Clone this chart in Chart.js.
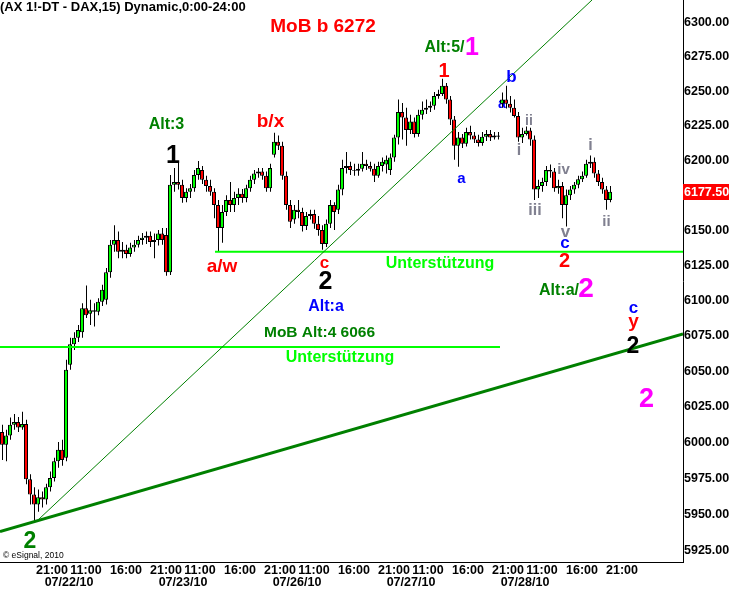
<!DOCTYPE html>
<html><head><meta charset="utf-8">
<script src="https://cdn.jsdelivr.net/npm/chart.js@4.4.1/dist/chart.umd.min.js"></script>
<style>html,body{margin:0;padding:0;background:#fff;overflow:hidden}#wrap{position:relative;width:732px;height:596px}</style>
</head><body><div id="wrap"><canvas id="c"></canvas></div>
<script>
// ---- DAX 30-min candles ----
const openP = [6007.5,5998.5,6005,6012.5,6014.5,6010.5,6013,5974.5,5964,5957,
5962,5960.5,5969,5975.5,5987,5995,5989.5,6054.5,6069,6073.5,
6077.5,6094.5,6090.5,6093,6092,6099,6100.5,6120,6139.5,6143,
6134.5,6136,6133,6137.5,6139.5,6143,6144.5,6146,6141.5,6143,
6147.5,6146.5,6120,6182.5,6184.5,6182.5,6173,6177.5,6180,6189.5,
6193,6186,6181.5,6177.5,6168,6151.5,6163,6171.5,6168,6173,
6176,6173,6180,6186,6190.5,6192,6189,6180,6204,6213.5,
6210.5,6189,6168,6157.5,6164.5,6163,6153,6160,6161.5,6154.5,
6150,6140,6154.5,6168,6164.5,6179,6194.5,6196,6193,6192.5,
6194,6197.5,6196,6194,6189,6196,6197,6193,6202,6216.5,
6235,6231,6222,6228,6219,6233,6236.5,6238,6239.5,6246.5,
6248,6254,6244,6229.5,6210.5,6216.5,6212,6220.5,6218,6215,
6212.5,6217,6219,6216.5,6218,6241,6244,6241,6238,6232,
6216.5,6219,6221.5,6215,6179,6181.5,6184.5,6193,6192,6180,
6181.5,6168,6175,6179,6182.5,6186.5,6189,6197.5,6199,6190.5,
6184.5,6179,6171.5];
const highP = [6012.5,6009,6017.5,6020,6018,6021.5,6016,5978,5969,5967.5,
5966,5971.5,5980,5989.5,6000.5,6002,6058,6073.5,6077.5,6082.5,
6098,6110.5,6100.5,6098,6101.5,6111,6123,6143,6153.5,6149,
6141.5,6139.5,6141,6143,6146,6148,6149,6149,6147.5,6150,
6151.5,6151.5,6189.5,6194.5,6198.5,6186,6180,6183,6193,6199.5,
6196,6189,6186,6180,6171.5,6168,6175,6184.5,6177.5,6180,
6179.5,6182.5,6189,6193,6194.5,6194.5,6192,6197.5,6220,6218,
6213.5,6192,6171.5,6168,6171.5,6166,6163,6164.5,6164.5,6160,
6153.5,6157.5,6171.5,6170,6182.5,6200.5,6206,6199,6197.5,6197.5,
6206,6200.5,6199,6197.5,6199,6202,6203.5,6205,6218.5,6244,
6241.5,6238,6233,6231,6236.5,6242.5,6244,6242.5,6249.5,6251,
6259,6256,6246.5,6232,6220.5,6219,6223.5,6225,6220.5,6218.5,
6220.5,6222,6222,6220.5,6220.5,6249,6254,6246.5,6244,6235,
6223.5,6224.5,6223.5,6218,6186,6187.5,6196,6197,6194.5,6186,
6184.5,6179,6181.5,6184.5,6189,6192,6200.5,6203.5,6202,6193,
6187.5,6181.5,6181.5];
const lowP = [5988,5987,6002,6009,6007.5,6009,5971,5957,5945,5952,
5955,5957,5966,5973,5982.5,5984,5987,6051,6065,6070.5,
6073.5,6087.5,6082.5,6081.5,6089.5,6096,6097,6116,6134.5,6130,
6130,6130,6131,6134.5,6137.5,6139.5,6140,6138,6130,6139,
6139.5,6117.5,6118,6177.5,6179,6169.5,6170,6173,6177.5,6186,
6183,6177.5,6174.5,6158.5,6134.5,6141,6160,6163,6163,6168,
6169.5,6170,6177.5,6183,6187.5,6186,6177.5,6177.5,6202,6207.5,
6186,6164.5,6151.5,6154.5,6158.5,6149,6150,6157.5,6151,6146,
6136,6138,6151.5,6150,6161.5,6175,6190.5,6189.5,6189,6189,
6192,6193,6192,6184.5,6187.5,6192,6190.5,6189.5,6199,6211.5,
6215,6210.5,6219,6216.5,6217,6229.5,6233.5,6235,6236.5,6244.5,
6246.5,6241,6225.5,6200.5,6195.5,6209,6210,6215,6212.5,6210,
6210.5,6214,6214,6215,6215,6238,6237.5,6234.5,6231,6213.5,
6212.5,6218,6210.5,6171.5,6173,6177.5,6181.5,6187.5,6177.5,6176,
6158.5,6152.5,6171.5,6176,6180,6184.5,6187.5,6194.5,6187.5,6181.5,
6176,6164.5,6170];
const closeP = [5998.5,6005,6012.5,6014.5,6010.5,6013,5974.5,5964,5957,5962,
5960.5,5969,5975.5,5987,5995,5988,6051,6069,6073.5,6079,
6094.5,6089.5,6093,6092,6099,6107.5,6120,6139.5,6143,6134.5,
6136,6133,6137.5,6139.5,6143,6144.5,6146,6141.5,6143,6147.5,
6143,6120,6182.5,6184.5,6182.5,6173,6177.5,6180,6189.5,6194.5,
6186,6181.5,6177.5,6168,6151.5,6163,6171.5,6168,6173,6176,
6173,6180,6186,6190.5,6192,6189,6180,6194.5,6213.5,6210.5,
6189,6168,6156,6164.5,6163,6153,6160,6161.5,6154.5,6150,
6140,6154.5,6168,6163,6179,6194.5,6196,6193,6192.5,6194,
6197.5,6196,6194,6189,6196,6199,6200.5,6202,6216.5,6235,
6231,6222,6228,6219,6233,6236.5,6238,6239.5,6246.5,6248,
6254,6244,6229.5,6210.5,6216.5,6212,6220.5,6218,6215,6212.5,
6217,6219,6216.5,6218,6217,6244,6241,6238,6232,6216.5,
6219,6221.5,6215,6179,6181.5,6184.5,6193,6192,6180,6181.5,
6168,6175,6179,6182.5,6186.5,6189,6197.5,6199,6190.5,6184.5,
6179,6171.5,6177.5];
const lastPrice = 6177.5;

// ---- axes ----
const dayLabels = ['07/21/10','07/22/10','07/23/10','07/26/10','07/27/10','07/28/10'];
const timeTickDay = [0,1,1,1,2,2,2,3,3,3,4,4,4,5,5,5];
const timeTickText = ['21:00','11:00','16:00','21:00','11:00','16:00','21:00','11:00','16:00','21:00','11:00','16:00','21:00','11:00','16:00','21:00'];
const dateTickDay = [1,2,3,4,5];
const yTickValues = [5925,5950,5975,6000,6025,6050,6075,6100,6125,6150,6175,6200,6225,6250,6275,6300];

// ---- drawn lines (price levels / trend lines) ----
const supportUpper = 6134.5;   // Unterstützung (upper)
const supportLower = 6067;     // Unterstützung (MoB Alt:4 6066)
const trendLongPrices = [5938.4, 6076.2];
const trendSteepPrices = [5945.7, 6316.6];

// ---- session-hour time axis (7:45 - 22:00 sessions) ----
const SESSION_LEN = 14.25, FIRST_SESSION = -6.75, SESSION_OPEN = 7.75;
function hourPos(day, hhmm){ const [h,m] = hhmm.split(':').map(Number); return FIRST_SESSION + day*SESSION_LEN + (h + m/60 - SESSION_OPEN); }
const FIRST_BAR = 0.25, BAR_STEP = 0.5, X_MAX = 85.375, Y_MIN = 5917.4, Y_MAX = 6316.6;
const WICK_NUDGE = 0.0625; // half a pixel so the 1px wick lands on a whole pixel
const barHours = openP.map((_, i) => FIRST_BAR + i*BAR_STEP);

const xTicks = timeTickText.map((t,i)=>({value: hourPos(timeTickDay[i], t), lbl: t}))
  .concat(dateTickDay.map(d=>({value:(hourPos(d-1,'21:00')+hourPos(d,'11:00'))/2, lbl:['', dayLabels[d]]})));

const FONT = '"Liberation Sans", Arial, sans-serif';
const RED='#ff0000', GRN='#008000', BLU='#0000ff', MAG='#ff00ff', LIME='#00ff00', GRY='#808090', BLK='#000000';
// [text, session hour, price (baseline), colour, size]
const notes = [
 ['MoB b 6272',40.375,6293.2,RED,19],
 ['Alt:5/',55.56,6278.6,GRN,16],
 ['1',59.0,6276.4,MAG,25],
 ['1',55.5,6260.4,RED,20],
 ['b/x',33.81,6224.1,RED,19],
 ['Alt:3',20.81,6222.6,GRN,16],
 ['1',21.625,6198.3,BLK,25],
 ['a/w',27.75,6120.2,RED,19],
 ['c',40.56,6123.1,RED,17],
 ['2',40.69,6108.1,BLK,25],
 ['Alt:a',40.75,6092.5,BLU,16],
 ['MoB Alt:4 6066',39.94,6074.2,GRN,15.5],
 ['Unterstützung',55.0,6123.1,LIME,16],
 ['Unterstützung',42.5,6056.6,LIME,16],
 ['a',57.69,6183.8,BLU,15],
 ['b',63.94,6256.8,BLU,17],
 ['ii',66.125,6225.7,GRY,14],
 ['i',64.875,6204.0,GRY,16],
 ['iii',66.875,6160.9,GRY,16],
 ['iv',70.44,6190.3,GRY,15],
 ['v',70.69,6145.2,GRY,17],
 ['c',70.625,6137.4,BLU,17],
 ['2',70.56,6123.8,RED,20],
 ['i',73.81,6207.7,GRY,16],
 ['ii',75.81,6153.0,GRY,15],
 ['Alt:a/',69.875,6103.9,GRN,16],
 ['2',73.25,6102.5,MAG,28],
 ['c',79.19,6091.1,BLU,17],
 ['y',79.19,6081.3,RED,19],
 ['2',79.125,6062.9,BLK,23],
 ['2',80.81,6024.9,MAG,27],
 ['2',3.75,5927.2,GRN,23]
];
const underNotes = [['a',62.75,6238.0,BLU,14]];

const overlay = {
  id:'overlay',
  beforeDatasetsDraw(chart){ drawNotes(chart, underNotes); },
  afterDatasetsDraw(chart){ drawNotes(chart, notes); },
  afterDraw(chart){
    const ctx = chart.ctx, ys = chart.scales.y, area = chart.chartArea;
    ctx.save();
    ctx.fillStyle = '#000'; ctx.font = 'bold 13px '+FONT; ctx.textAlign='left'; ctx.textBaseline='top';
    ctx.fillText('(AX 1!-DT - DAX,15) Dynamic,0:00-24:00', 0, 1);
    ctx.font = '8.5px '+FONT; ctx.textBaseline='alphabetic';
    ctx.fillText('\u00a9 eSignal, 2010', 3, ys.getPixelForValue(5920.2));
    const y = Math.round(ys.getPixelForValue(lastPrice));
    ctx.fillStyle = '#ff0000'; ctx.fillRect(area.right, y-8, 46, 16);
    ctx.fillStyle = '#fff'; ctx.font = 'bold 12.5px '+FONT; ctx.textBaseline='middle';
    ctx.fillText(lastPrice.toFixed(2), area.right+1, y+0.5);
    ctx.restore();
  }
};
function drawNotes(chart, list){
  const ctx = chart.ctx, xs = chart.scales.x, ys = chart.scales.y;
  ctx.save(); ctx.textAlign='center'; ctx.textBaseline='alphabetic';
  for (const [t,h,p,c,s] of list){
    ctx.font = 'bold '+s+'px '+FONT; ctx.fillStyle = c;
    ctx.fillText(t, xs.getPixelForValue(h), ys.getPixelForValue(p));
  }
  ctx.restore();
}

const wickData = barHours.map((h,i)=>({x:h+WICK_NUDGE, y:[lowP[i], highP[i]]}));
const bodyData = barHours.map((h,i)=>({x:h, y:[openP[i], closeP[i]]}));
const bodyColors = openP.map((o,i)=> closeP[i] >= o ? '#00ff00' : '#ff0000');

new Chart(document.getElementById('c'), {
  type:'bar',
  data:{ datasets:[
    {type:'bar', xAxisID:'x2', data:wickData, backgroundColor:'#000', borderWidth:0, barThickness:1, maxBarThickness:1, grouped:false, order:4, inflateAmount:0},
    {type:'bar', data:bodyData, backgroundColor:bodyColors, borderColor:'#000', borderWidth:1, borderSkipped:false, barThickness:4, maxBarThickness:4, grouped:false, order:3, inflateAmount:0},
    {type:'line', data:[{x:0,y:trendLongPrices[0]},{x:X_MAX,y:trendLongPrices[1]}], borderColor:'#008000', borderWidth:3, pointRadius:0, order:1},
    {type:'line', data:[{x:4.625,y:trendSteepPrices[0]},{x:74,y:trendSteepPrices[1]}], borderColor:'#008000', borderWidth:1, pointRadius:0, order:1},
    {type:'line', data:[{x:26.875,y:supportUpper},{x:X_MAX,y:supportUpper}], borderColor:'#00ff00', borderWidth:2, pointRadius:0, order:2},
    {type:'line', data:[{x:0,y:supportLower},{x:62.5,y:supportLower}], borderColor:'#00ff00', borderWidth:2, pointRadius:0, order:2}
  ]},
  options:{
    responsive:true, maintainAspectRatio:false, animation:false, devicePixelRatio:1, events:[],
    layout:{padding:0, autoPadding:false},
    plugins:{legend:{display:false}, tooltip:{enabled:false}},
    scales:{
      x:{type:'linear', min:0, max:X_MAX, offset:false, bounds:'data', position:'bottom',
        grid:{display:false, drawTicks:false}, border:{display:true, color:'#000', width:1},
        afterBuildTicks:s=>{ s.ticks = xTicks.map(t=>({value:t.value, lbl:t.lbl})); },
        afterFit:s=>{ s.height = 34; s.paddingLeft=0; s.paddingRight=0; },
        ticks:{autoSkip:false, maxRotation:0, minRotation:0, padding:2.5, color:'#000',
          font:{family:FONT, size:12.5, weight:'bold', lineHeight:'12px'},
          callback:(v,i,ticks)=>ticks[i].lbl}
      },
      x2:{type:'linear', min:0, max:X_MAX, offset:false, bounds:'data', position:'bottom', display:false},
      y:{type:'logarithmic', position:'right', min:Y_MIN, max:Y_MAX, bounds:'data',
        grid:{display:false, drawTicks:false}, border:{display:true, color:'#000', width:1},
        afterBuildTicks:s=>{ s.ticks = yTickValues.map(v=>({value:v})); },
        afterFit:s=>{ s.width = 49; s.paddingTop=0; s.paddingBottom=0; },
        ticks:{padding:1, color:'#000', font:{family:FONT, size:12.5, weight:'bold'},
          callback:v=> Math.abs(v-lastPrice) < 6 ? '' : Number(v).toFixed(2)}
      }
    }
  },
  plugins:[overlay]
});
</script></body></html>
